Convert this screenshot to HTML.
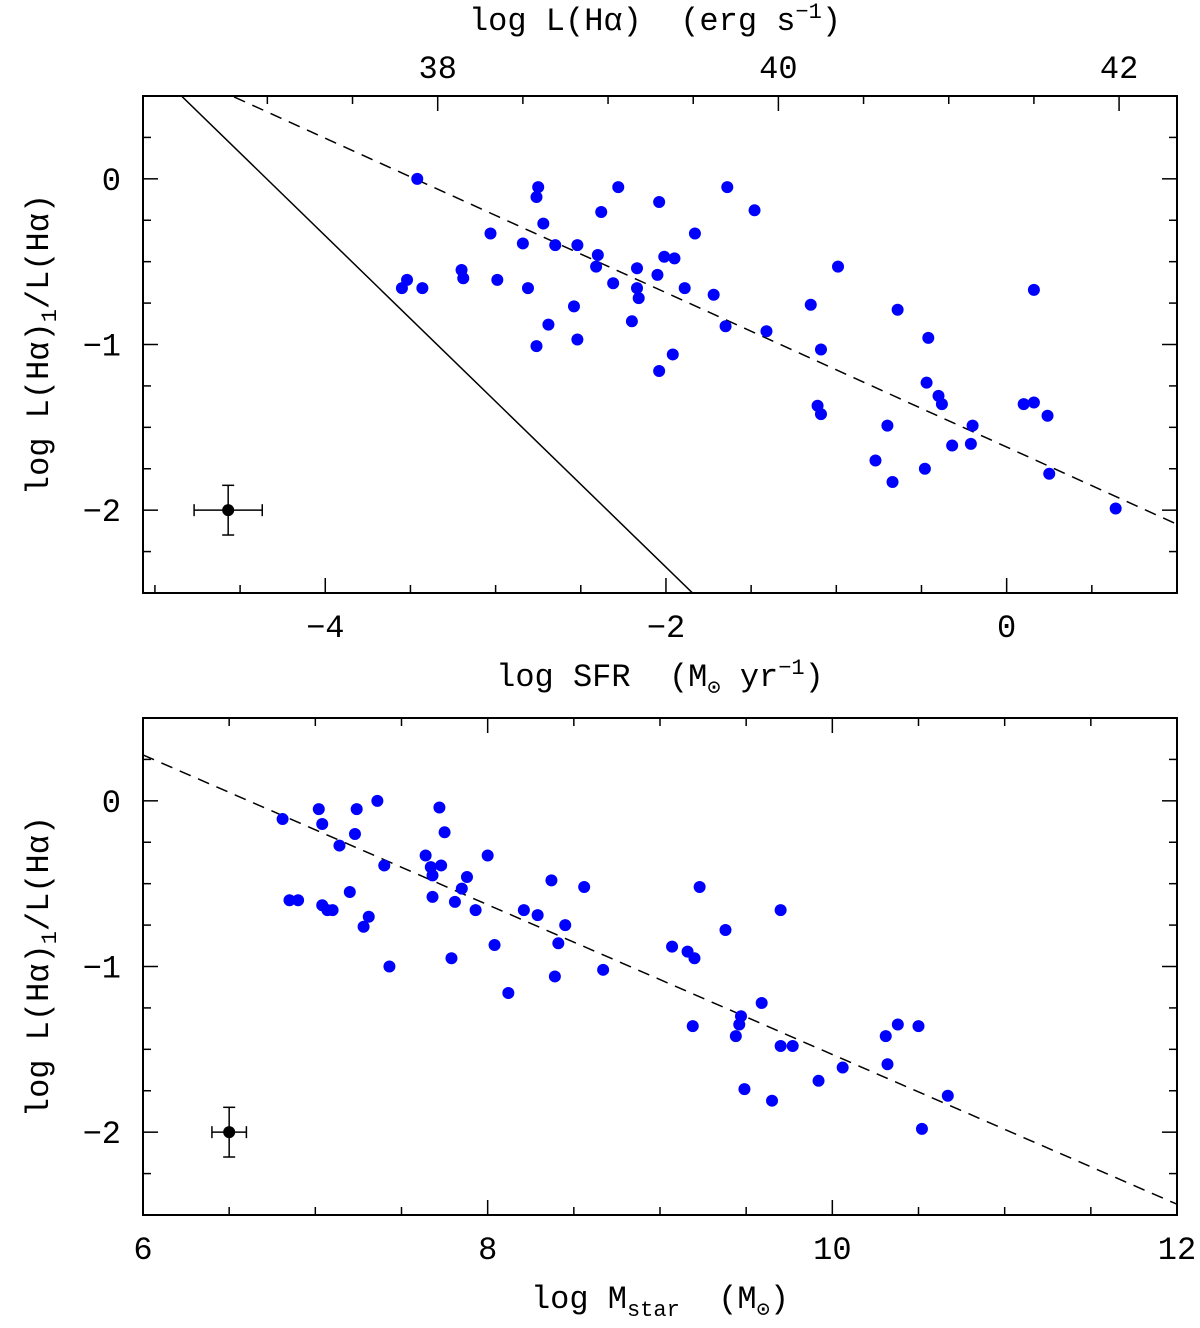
<!DOCTYPE html>
<html><head><meta charset="utf-8"><style>
html,body{margin:0;padding:0;background:#fff;}
svg{display:block;font-family:"Liberation Mono",monospace;}
</style></head><body>
<svg id="c" width="1200" height="1328" viewBox="0 0 1200 1328"></svg>
<script>
const topSfr=[-3.46,-3.55,-3.52,-3.43,-3.20,-3.19,-3.03,-2.99,-2.84,-2.81,-2.75,-2.76,-2.72,-2.76,-2.69,-2.65,-2.52,-2.54,-2.52,-2.41,-2.38,-2.40,-2.31,-2.28,-2.20,-2.17,-2.17,-2.16,-2.04,-2.05,-2.04,-2.01,-1.95,-1.96,-1.89,-1.83,-1.72,-1.64,-1.65,-1.48,-1.41,-1.15,-1.11,-1.09,-1.09,-0.99,-0.77,-0.70,-0.67,-0.64,-0.48,-0.47,-0.46,-0.40,-0.38,-0.32,-0.21,-0.20,0.10,0.16,0.16,0.24,0.25,0.64];
const topRatio=[0,-0.66,-0.61,-0.66,-0.55,-0.60,-0.33,-0.61,-0.39,-0.66,-0.05,-0.11,-0.27,-1.01,-0.88,-0.40,-0.40,-0.77,-0.97,-0.53,-0.20,-0.46,-0.63,-0.05,-0.86,-0.54,-0.66,-0.72,-0.14,-0.58,-1.16,-0.47,-0.48,-1.06,-0.66,-0.33,-0.70,-0.05,-0.89,-0.19,-0.92,-0.76,-1.37,-1.03,-1.42,-0.53,-1.70,-1.49,-1.83,-0.79,-1.75,-1.23,-0.96,-1.31,-1.36,-1.61,-1.60,-1.49,-1.36,-1.35,-0.67,-1.43,-1.78,-1.99];
const botMass=[6.81,6.85,6.90,7.02,7.04,7.04,7.07,7.10,7.14,7.20,7.23,7.24,7.28,7.31,7.36,7.40,7.43,7.64,7.67,7.68,7.68,7.72,7.73,7.75,7.79,7.81,7.85,7.88,7.93,8.00,8.04,8.12,8.21,8.29,8.37,8.39,8.41,8.45,8.56,8.67,9.07,9.16,9.19,9.20,9.23,9.38,9.44,9.46,9.47,9.49,9.59,9.65,9.70,9.70,9.77,9.92,10.06,10.31,10.32,10.38,10.50,10.52,10.67];
const botRatio=[-0.11,-0.60,-0.60,-0.05,-0.14,-0.63,-0.66,-0.66,-0.27,-0.55,-0.20,-0.05,-0.76,-0.70,0,-0.39,-1.00,-0.33,-0.40,-0.58,-0.45,-0.04,-0.39,-0.19,-0.95,-0.61,-0.53,-0.46,-0.66,-0.33,-0.87,-1.16,-0.66,-0.69,-0.48,-1.06,-0.86,-0.75,-0.52,-1.02,-0.88,-0.91,-1.36,-0.95,-0.52,-0.78,-1.42,-1.35,-1.30,-1.74,-1.22,-1.81,-0.66,-1.48,-1.48,-1.69,-1.61,-1.42,-1.59,-1.35,-1.36,-1.98,-1.78];
const topXTicks=[-4,-2,0];
const topLTicks=[38,40,42];
const botXTicks=[6,8,10,12];
const yTicks=[0,-1,-2];
const lhaOffset=41.34;

const NS="http://www.w3.org/2000/svg";
const svg=document.getElementById('c');
function el(t,a,p){const e=document.createElementNS(NS,t);for(const k in a)e.setAttribute(k,a[k]);(p||svg).appendChild(e);return e;}
function txt(s,x,y,anchor,name,size){const t=el('text',{x:x,y:y,'text-anchor':anchor||'middle','font-size':size||32,fill:'#000'});t.innerHTML=s;return t;}

function panel(cfg){
  const L=143,R=1177,T=cfg.top,B=cfg.top+497;
  const sx=v=>L+(v-cfg.x0)/(cfg.x1-cfg.x0)*(R-L);
  const sy=v=>T+(0.5-v)/3*(B-T);
  const g=el('g',{});
  
  
  const box=el('rect',{x:L,y:T,width:R-L,height:B-T,fill:'none',stroke:'#000','stroke-width':2},g);
  
  
  for(let v=Math.ceil(cfg.x0*2)/2;v<=cfg.x1+1e-9;v+=0.5){
    const maj=Math.abs(v-Math.round(v/2)*2)<1e-9, len=maj?15:8, x=sx(v);
    el('line',{x1:x,x2:x,y1:B,y2:B-len,stroke:'#000','stroke-width':1.5},g);
    if(!cfg.topAxis) el('line',{x1:x,x2:x,y1:T,y2:T+len,stroke:'#000','stroke-width':1.5},g);
  }
  if(cfg.topAxis){
    const lx=v=>sx(v-lhaOffset);
    for(let v=37;v<=42.5;v+=0.5){const x=lx(v);if(x<L||x>R)continue;
      const maj=Math.abs(v-Math.round(v/2)*2)<1e-9,len=maj?15:8;
      el('line',{x1:x,x2:x,y1:T,y2:T+len,stroke:'#000','stroke-width':1.5},g);}
    topLTicks.forEach(v=>txt(String(v),lx(v),T-18,'middle','top-tick-label'));
  }
  for(let v=0.5;v>=-2.5;v-=0.25){
    const maj=Math.abs(v-Math.round(v))<1e-9,len=maj?15:8,y=sy(v);
    el('line',{x1:L,x2:L+len,y1:y,y2:y,stroke:'#000','stroke-width':1.5},g);
    el('line',{x1:R,x2:R-len,y1:y,y2:y,stroke:'#000','stroke-width':1.5},g);
  }
  cfg.xt.forEach(v=>txt(v<0?'\u2212'+(-v):String(v),sx(v),B+44,'middle','x-tick-label'));
  yTicks.forEach(v=>txt(v<0?'\u2212'+(-v):String(v),L-22,sy(v)+11,'end','y-tick-label'));
  const cid='clip'+cfg.name;
  const cp=el('clipPath',{id:cid},g);el('rect',{x:L,y:T,width:R-L,height:B-T},cp);
  cfg.lines.forEach(ln=>{
    const p=el('line',{x1:sx(cfg.x0),y1:sy(ln.a+ln.b*cfg.x0),x2:sx(cfg.x1),y2:sy(ln.a+ln.b*cfg.x1),stroke:'#000','stroke-width':1.5,'stroke-dasharray':ln.dash||'none','clip-path':'url(#'+cid+')'},g);
    
    
  });
  cfg.xs.forEach((v,i)=>{
    const c=el('circle',{cx:sx(v),cy:sy(cfg.ys[i]),r:6,fill:'#0000ff'},g);
    
    
  });
  const e=cfg.err,ex=sx(e.x),ey=sy(e.y);
  const eg=el('g',{stroke:'#000','stroke-width':1.5},g);
  
  
  el('line',{x1:sx(e.x-e.dx),x2:sx(e.x+e.dx),y1:ey,y2:ey},eg);
  el('line',{x1:ex,x2:ex,y1:sy(e.y+e.dy),y2:sy(e.y-e.dy)},eg);
  [e.x-e.dx,e.x+e.dx].forEach(v=>el('line',{x1:sx(v),x2:sx(v),y1:ey-6,y2:ey+6},eg));
  [e.y-e.dy,e.y+e.dy].forEach(v=>el('line',{x1:ex-6,x2:ex+6,y1:sy(v),y2:sy(v)},eg));
  el('circle',{cx:ex,cy:ey,r:6,fill:'#000',stroke:'none'},g);
  const yl=el('text',{x:0,y:0,'text-anchor':'middle','font-size':32,transform:'translate(48,'+(T+(B-T)/2)+') rotate(-90)'},g);
  yl.innerHTML='log L(H\u03b1)<tspan font-size="22" dy="8">1</tspan><tspan dy="-8">/L(H\u03b1)</tspan>';
  
  
}
panel({name:'top-panel',top:96,x0:-5.07,x1:1.0,xt:topXTicks,xs:topSfr,ys:topRatio,topAxis:true,
  lines:[{a:-4.344,b:-1.0,name:'solid-line'},{a:-1.619,b:-0.466,dash:'12 8',name:'dashed-fit-line'}],
  err:{x:-4.57,y:-2,dx:0.2,dy:0.15}});
panel({name:'bottom-panel',top:718,x0:6,x1:12,xt:botXTicks,xs:botMass,ys:botRatio,topAxis:false,
  lines:[{a:2.989,b:-0.452,dash:'12 8',name:'dashed-fit-line'}],
  err:{x:6.5,y:-2,dx:0.1,dy:0.15}});
txt('log L(H\u03b1) &#160;(erg s<tspan font-size="22" dy="-12">\u22121</tspan><tspan dy="12">)</tspan>',655,30,'middle','top-axis-title');
txt('log SFR &#160;(M<tspan font-size="22" dy="8">\u2299</tspan><tspan dy="-8"> yr</tspan><tspan font-size="22" dy="-12">\u22121</tspan><tspan dy="12">)</tspan>',660,686,'middle','x-axis-title');
txt('log M<tspan font-size="22" dy="8">star</tspan><tspan dy="-8"> &#160;(M</tspan><tspan font-size="22" dy="8">\u2299</tspan><tspan dy="-8">)</tspan>',660,1308,'middle','x-axis-title-bottom');
</script>
</body></html>
